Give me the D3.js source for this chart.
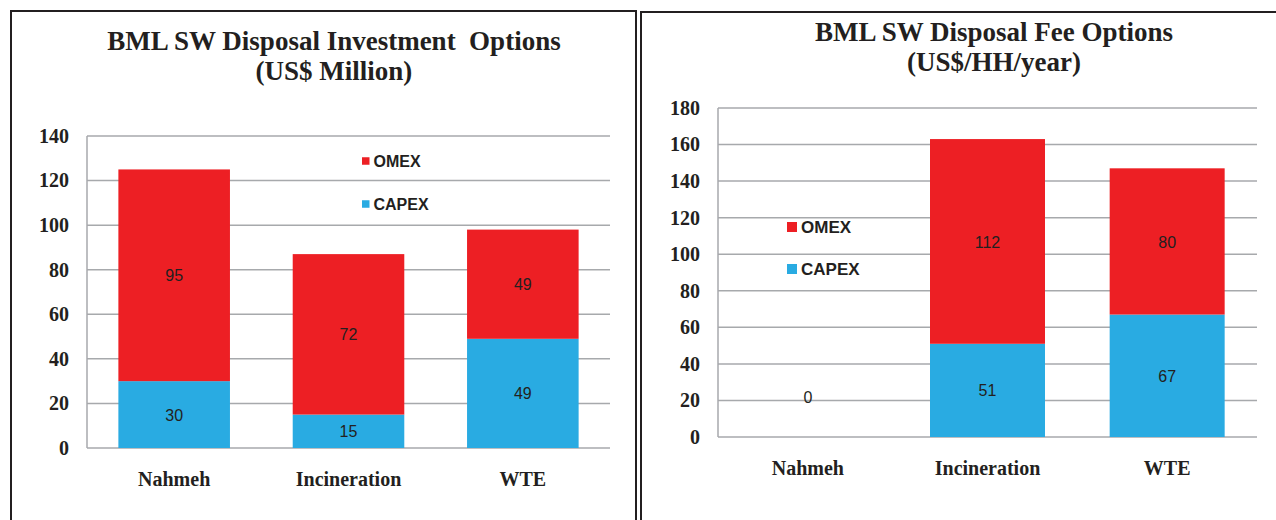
<!DOCTYPE html>
<html>
<head>
<meta charset="utf-8">
<script src="https://cdn.jsdelivr.net/npm/d3@7"></script>
<style>
  body { margin: 0; background: #fff; }
  svg { display: block; }
</style>
</head>
<body>
<svg id="chart" width="1276" height="520"></svg>
<script>
// data
const categories = ["Nahmeh", "Incineration", "WTE"];
const seriesNames = ["CAPEX", "OMEX"];

const investCapex = [30, 15, 49];
const investOmex = [95, 72, 49];
const investTicks = [0, 20, 40, 60, 80, 100, 120, 140];

const feeCapex = [0, 51, 67];
const feeOmex = [0, 112, 80];
const feeTicks = [0, 20, 40, 60, 80, 100, 120, 140, 160, 180];

const colors = { CAPEX: "#29abe2", OMEX: "#ed1f24" };
const serif = "'Liberation Serif', 'Times New Roman', serif";
const sans = "'Liberation Sans', Arial, sans-serif";

const svg = d3.select("#chart");

// panel frames
svg.append("path")
  .attr("d", "M11,520V11H636V520")
  .attr("fill", "none").attr("stroke", "#231f20").attr("stroke-width", 2);
svg.append("path")
  .attr("d", "M641,520V12H1276")
  .attr("fill", "none").attr("stroke", "#231f20").attr("stroke-width", 2);

function drawChart(opt) {
  const g = svg.append("g");
  const data = categories.map((c, i) => ({
    cat: c, CAPEX: opt.capex[i], OMEX: opt.omex[i]
  }));

  const x = d3.scaleBand()
    .domain(categories)
    .range([opt.x0, opt.x1])
    .paddingInner(0.36)
    .paddingOuter(0.18);
  const y = d3.scaleLinear()
    .domain([0, d3.max(opt.ticks)])
    .range([opt.y1, opt.y0]);

  // gridlines
  g.append("g")
    .selectAll("line")
    .data(opt.ticks)
    .join("line")
    .attr("x1", opt.x0).attr("x2", opt.x1)
    .attr("y1", d => y(d)).attr("y2", d => y(d))
    .attr("stroke", "#a7a9ac").attr("stroke-width", 1.5);
  g.append("line")
    .attr("x1", opt.x0).attr("x2", opt.x0)
    .attr("y1", y(0)).attr("y2", y(d3.max(opt.ticks)))
    .attr("stroke", "#a7a9ac").attr("stroke-width", 1.5);

  // y axis labels
  const yAxis = g.append("g")
    .attr("transform", `translate(${opt.x0 - 18},0)`)
    .call(d3.axisLeft(y).tickValues(opt.ticks).tickSize(0).tickPadding(0));
  yAxis.select(".domain").remove();
  yAxis.selectAll("text")
    .attr("font-family", serif).attr("font-weight", "bold")
    .attr("font-size", 20).attr("fill", "#231f20");

  // x axis labels
  const xAxis = g.append("g")
    .attr("transform", `translate(0,${y(0)})`)
    .call(d3.axisBottom(x).tickSize(0).tickPadding(opt.xPad));
  xAxis.select(".domain").remove();
  xAxis.selectAll("text")
    .attr("font-family", serif).attr("font-weight", "bold")
    .attr("font-size", 20).attr("fill", "#231f20");

  const stacked = d3.stack().keys(seriesNames)(data);

  const layers = g.append("g")
    .selectAll("g")
    .data(stacked)
    .join("g")
    .attr("fill", d => colors[d.key]);

  layers.selectAll("rect")
    .data(d => d)
    .join("rect")
    .attr("x", d => x(d.data.cat))
    .attr("width", x.bandwidth())
    .attr("y", d => y(d[1]))
    .attr("height", d => y(d[0]) - y(d[1]));

  // value labels
  const labels = [];
  stacked.forEach(layer => {
    layer.forEach(d => {
      const v = d[1] - d[0];
      if (v > 0) labels.push({ cat: d.data.cat, v, mid: (d[0] + d[1]) / 2 });
    });
  });
  data.forEach(d => {
    if (d.CAPEX + d.OMEX === 0) labels.push({ cat: d.cat, v: 0, mid: opt.zeroLabelAt });
  });

  g.append("g")
    .selectAll("text")
    .data(labels)
    .join("text")
    .attr("x", d => x(d.cat) + x.bandwidth() / 2)
    .attr("y", d => y(d.mid))
    .attr("dy", "0.38em")
    .attr("text-anchor", "middle")
    .attr("font-family", sans).attr("font-size", 16)
    .attr("fill", "#231f20")
    .text(d => d.v);

  // legend
  const leg = g.append("g")
    .selectAll("g")
    .data(["OMEX", "CAPEX"])
    .join("g")
    .attr("transform", (d, i) => `translate(${opt.legX},${opt.legY + i * opt.legStep})`);
  leg.append("rect")
    .attr("x", 0).attr("y", -opt.legBox / 2)
    .attr("width", opt.legBox).attr("height", opt.legBox)
    .attr("fill", d => colors[d]);
  leg.append("text")
    .attr("x", opt.legBox + 4)
    .attr("dy", "0.36em")
    .attr("font-family", sans).attr("font-weight", "bold")
    .attr("font-size", opt.legFont).attr("fill", "#231f20")
    .text(d => d);

  // title
  const t = svg.append("text")
    .attr("text-anchor", "middle")
    .attr("font-family", serif).attr("font-weight", "bold")
    .attr("font-size", 27).attr("fill", "#231f20");
  opt.title.forEach((line, i) => {
    t.append("tspan")
      .attr("x", opt.titleX)
      .attr("y", opt.titleY + i * 30)
      .attr("xml:space", "preserve")
      .text(line);
  });
}

drawChart({
  capex: investCapex, omex: investOmex, ticks: investTicks,
  x0: 87, x1: 610, y0: 136, y1: 448, xPad: 24,
  legX: 362, legY: 161, legStep: 43, legBox: 7.5, legFont: 16,
  title: ["BML SW Disposal Investment  Options", "(US$ Million)"],
  titleX: 334, titleY: 50,
  zeroLabelAt: 0
});

drawChart({
  capex: feeCapex, omex: feeOmex, ticks: feeTicks,
  x0: 718, x1: 1257, y0: 108, y1: 437, xPad: 24,
  legX: 787, legY: 227, legStep: 42, legBox: 10, legFont: 17,
  title: ["BML SW Disposal Fee Options", "(US$/HH/year)"],
  titleX: 994, titleY: 41,
  zeroLabelAt: 22
});
</script>
</body>
</html>
